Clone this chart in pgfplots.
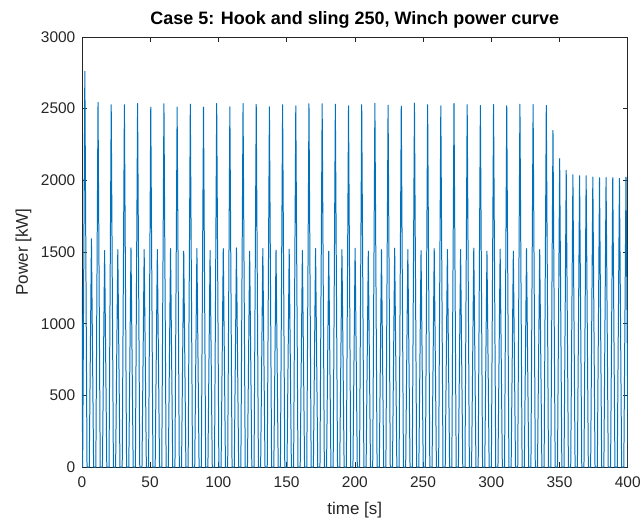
\documentclass[border=0pt]{standalone}
\usepackage{pgfplots}
\pgfplotsset{compat=1.18}
\usepackage{fontspec}
\setmainfont{Liberation Sans}
\definecolor{mblue}{RGB}{0,114,189}
\definecolor{mgray}{RGB}{38,38,38}
\begin{document}
\begin{tikzpicture}
\begin{axis}[
  scale only axis,
  width=547pt, height=431pt,
  xmin=0, xmax=400, ymin=0, ymax=3000,
  xtick={0,50,...,400}, ytick={0,500,...,3000},
  tick align=inside,
  major tick length=5pt,
  axis line style={mgray, line width=0.6pt},
  tick style={mgray, line width=0.6pt},
  ticklabel style={font=\fontsize{15.5}{17}\selectfont, text=mgray},
  xticklabel style={yshift=-6pt},
  yticklabel style={xshift=-3pt},
  /pgf/number format/assume math mode=true,
  /pgf/number format/1000 sep={},
  title={\textbf{Case 5: Hook and sling 250, Winch power curve}},
  title style={font=\fontsize{18}{20}\selectfont, text=black, yshift=-1pt},
  xlabel={time [s]}, ylabel={Power [kW]},
  every axis x label/.style={at={(axis description cs:0.5,0)}, anchor=north, yshift=-32pt, font=\fontsize{17}{19}\selectfont, text=mgray},
  every axis y label/.style={at={(axis description cs:0,0.5)}, rotate=90, anchor=south, yshift=47pt, font=\fontsize{17}{19}\selectfont, text=mgray},
  clip=true,
]
\addplot[mblue, line width=1.0pt, line join=round] coordinates {
(0,1260) (0.6,0) (2.2,2760) (3.8,0)
(5.43,0) (7.03,1592) (8.63,0)
(10.26,0) (11.86,2543) (13.46,0)
(15.09,0) (16.69,1510) (18.29,0)
(19.92,0) (21.52,2527) (23.12,0)
(24.75,0) (26.35,1517) (27.95,0)
(29.58,0) (31.18,2527) (32.78,0)
(34.41,0) (36.01,1529) (37.61,0)
(39.24,0) (40.84,2536) (42.44,0)
(44.07,0) (45.67,1517) (47.27,0)
(48.90,0) (50.50,2511) (52.10,0)
(53.73,0) (55.33,1517) (56.93,0)
(58.56,0) (60.16,2534) (61.76,0)
(63.39,0) (64.99,1524) (66.59,0)
(68.22,0) (69.82,2511) (71.42,0)
(73.05,0) (74.65,1506) (76.25,0)
(77.88,0) (79.48,2531) (81.08,0)
(82.71,0) (84.31,1524) (85.91,0)
(87.54,0) (89.14,2511) (90.74,0)
(92.37,0) (93.97,1510) (95.57,0)
(97.20,0) (98.80,2536) (100.40,0)
(102.03,0) (103.63,1524) (105.23,0)
(106.86,0) (108.46,2513) (110.06,0)
(111.69,0) (113.29,1529) (114.89,0)
(116.52,0) (118.12,2536) (119.72,0)
(121.35,0) (122.95,1506) (124.55,0)
(126.18,0) (127.78,2529) (129.38,0)
(131.01,0) (132.61,1524) (134.21,0)
(135.84,0) (137.44,2513) (139.04,0)
(140.67,0) (142.27,1513) (143.87,0)
(145.50,0) (147.10,2527) (148.70,0)
(150.33,0) (151.93,1520) (153.53,0)
(155.16,0) (156.76,2520) (158.36,0)
(159.99,0) (161.59,1510) (163.19,0)
(164.82,0) (166.42,2534) (168.02,0)
(169.65,0) (171.25,1524) (172.85,0)
(174.48,0) (176.08,2534) (177.68,0)
(179.31,0) (180.91,1506) (182.51,0)
(184.14,0) (185.74,2531) (187.34,0)
(188.97,0) (190.57,1517) (192.17,0)
(193.80,0) (195.40,2520) (197.00,0)
(198.63,0) (200.23,1527) (201.83,0)
(203.46,0) (205.06,2527) (206.66,0)
(208.29,0) (209.89,1506) (211.49,0)
(213.12,0) (214.72,2538) (216.32,0)
(217.95,0) (219.55,1517) (221.15,0)
(222.78,0) (224.38,2524) (225.98,0)
(227.61,0) (229.21,1527) (230.81,0)
(232.44,0) (234.04,2518) (235.64,0)
(237.27,0) (238.87,1517) (240.47,0)
(242.10,0) (243.70,2538) (245.30,0)
(246.93,0) (248.53,1510) (250.13,0)
(251.76,0) (253.36,2527) (254.96,0)
(256.59,0) (258.19,1524) (259.79,0)
(261.42,0) (263.02,2520) (264.62,0)
(266.25,0) (267.85,1517) (269.45,0)
(271.08,0) (272.68,2536) (274.28,0)
(275.91,0) (277.51,1517) (279.11,0)
(280.74,0) (282.34,2527) (283.94,0)
(285.57,0) (287.17,1527) (288.77,0)
(290.40,0) (292.00,2522) (293.60,0)
(295.23,0) (296.83,1506) (298.43,0)
(300.06,0) (301.66,2529) (303.26,0)
(304.89,0) (306.49,1520) (308.09,0)
(309.72,0) (311.32,2520) (312.92,0)
(314.55,0) (316.15,1506) (317.75,0)
(319.38,0) (320.98,2531) (322.58,0)
(324.21,0) (325.81,1524) (327.41,0)
(329.04,0) (330.64,2529) (332.24,0)
(333.87,0) (335.47,1517) (337.07,0)
(338.70,0) (340.30,2522) (341.90,0)
(343.6,0) (345.2,2348) (346.8,0)
(348.5,0) (350.1,2151) (351.7,0)
(353.3,0) (354.9,2069) (356.5,0)
(358.2,0) (359.8,2039) (361.4,0)
(363.1,0) (364.7,2032) (366.3,0)
(367.9,0) (369.5,2032) (371.1,0)
(372.8,0) (374.4,2023) (376.0,0)
(377.7,0) (379.3,2018) (380.9,0)
(382.5,0) (384.1,2020) (385.7,0)
(387.4,0) (389.0,2018) (390.6,0)
(392.3,0) (393.9,2014) (395.5,0)
(397.1,0) (398.7,2022) (400.3,0)
};
\end{axis}
\path (current axis.south west) ++(-82pt,-53pt) coordinate (bl);
\path (current axis.north east) ++(15pt,37pt) coordinate (tr);
\useasboundingbox (bl) rectangle (tr);
\end{tikzpicture}
\end{document}
